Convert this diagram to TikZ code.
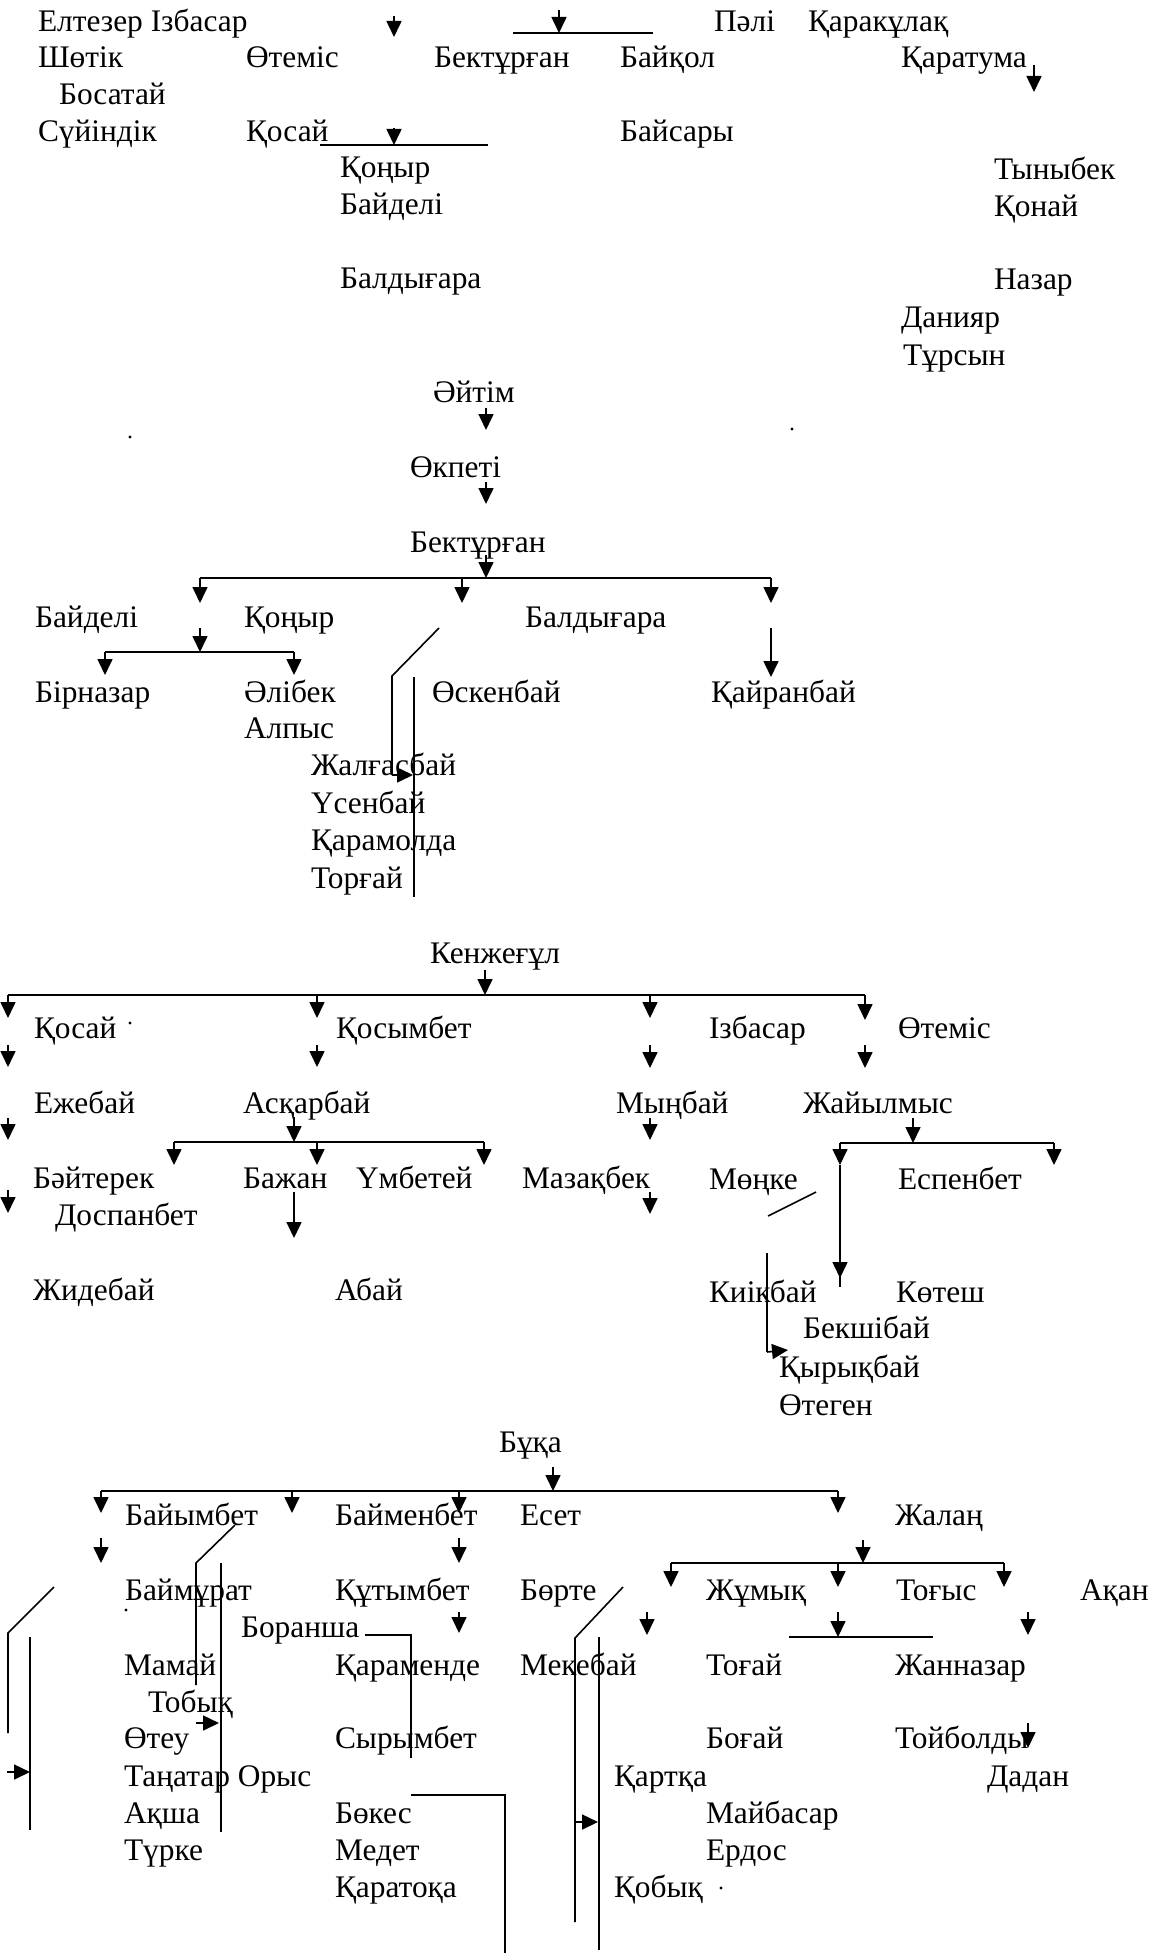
\documentclass[tikz,border=0pt]{standalone}
\usepackage{fontspec}
\setmainfont{Liberation Serif}
\usetikzlibrary{arrows.meta}
\tikzset{
  lbl/.style={anchor=base west,inner sep=0pt,outer sep=0pt,font=\fontsize{15.7}{19}\selectfont},
  ln/.style={line width=0.8pt,black},
  arw/.style={ln,-{Triangle[length=8pt,width=7.5pt]}},
  spot/.style={fill=black,circle,inner sep=0pt,minimum size=1.6pt}
}
\newcommand\nm[4]{\node[lbl] (#1) at (#2,#3) {#4};}
\newcommand\varr[3]{\draw[arw] (#1,#2)--(#1,#3);}
\begin{document}
\begin{tikzpicture}[x=0.5pt,y=-0.5pt]
\useasboundingbox (0,0) rectangle (1162,1953);
% ---------- top block ----------
\nm{eltezer}{38}{32}{Елтезер Ізбасар}
\nm{pali}{714}{32}{Пәлі}
\nm{karakulak}{808}{32}{Қаракұлақ}
\nm{shotik}{38}{68}{Шөтік}
\nm{otemisA}{246}{68}{Өтеміс}
\nm{bektA}{434}{68}{Бектұрған}
\nm{baykol}{620}{68}{Байқол}
\nm{karatuma}{901}{68}{Қаратума}
\nm{bosatay}{59}{105}{Босатай}
\nm{suyin}{38}{142}{Сүйіндік}
\nm{kosayA}{246}{142}{Қосай}
\nm{baysary}{620}{142}{Байсары}
\nm{konyrA}{340}{178}{Қоңыр}
\nm{tynybek}{994}{180}{Тыныбек}
\nm{baydeliA}{340}{215}{Байделі}
\nm{konay}{994}{217}{Қонай}
\nm{baldyA}{340}{288}{Балдығара}
\nm{nazar}{994}{290}{Назар}
\nm{daniyar}{901}{327}{Данияр}
\nm{tursyn}{903}{365}{Тұрсын}
\varr{394}{16}{37}
\draw[ln] (513,33)--(653,33);
\varr{559}{10}{33}
\varr{1034}{65}{92}
\draw[ln] (320,145)--(488,145);
\varr{394}{128}{145}
\node[spot] (dotA) at (130,437) {};
\node[spot] (dotB) at (792,429) {};
% ---------- Әйтім block ----------
\nm{aytim}{433}{402}{Әйтім}
\varr{486}{408}{430}
\nm{okpeti}{410}{477}{Өкпеті}
\varr{486}{482}{504}
\nm{bektB}{410}{552}{Бектұрған}
\varr{486}{555}{578}
\draw[ln] (200,578)--(771,578);
\varr{200}{578}{603}
\varr{462}{578}{603}
\varr{771}{578}{603}
\nm{baydeliB}{35}{627}{Байделі}
\nm{konyrB}{244}{627}{Қоңыр}
\nm{baldyB}{525}{627}{Балдығара}
\varr{200}{628}{652}
\draw[ln] (105,652)--(294,652);
\varr{105}{652}{675}
\varr{294}{652}{675}
\draw[ln] (439,628)--(392,676)--(392,775);
\draw[arw] (392,775)--(413,775);
\draw[ln] (414,677)--(414,897);
\varr{771}{628}{677}
\nm{birnazar}{35}{702}{Бірназар}
\nm{alibek}{244}{702}{Әлібек}
\nm{oskenbay}{432}{702}{Өскенбай}
\nm{kayranbay}{711}{702}{Қайранбай}
\nm{alpys}{244}{738}{Алпыс}
\nm{zhalgas}{311}{775}{Жалғасбай}
\nm{usenbay}{311}{813}{Үсенбай}
\nm{karamolda}{311}{850}{Қарамолда}
\nm{torgay}{311}{888}{Торғай}
% ---------- Кенжеғұл block ----------
\nm{kenzhe}{430}{963}{Кенжеғұл}
\varr{485}{970}{995}
\draw[ln] (8,995)--(865,995);
\varr{8}{995}{1018}
\varr{317}{995}{1018}
\varr{650}{995}{1018}
\varr{865}{995}{1020}
\nm{kosayB}{34}{1038}{Қосай}
\node[spot] (dotC) at (130,1023) {};
\nm{kosymbet}{336}{1038}{Қосымбет}
\nm{izbasar}{709}{1038}{Ізбасар}
\nm{otemisB}{898}{1038}{Өтеміс}
\varr{8}{1045}{1067}
\varr{317}{1045}{1067}
\varr{650}{1045}{1068}
\varr{865}{1045}{1068}
\nm{ezhebay}{34}{1113}{Ежебай}
\nm{askarbay}{243}{1113}{Асқарбай}
\nm{mynbay}{616}{1113}{Мыңбай}
\nm{zhayylmys}{803}{1113}{Жайылмыс}
\varr{8}{1118}{1140}
\varr{294}{1117}{1142}
\draw[ln] (174,1142)--(484,1142);
\varr{174}{1142}{1165}
\varr{317}{1142}{1165}
\varr{484}{1142}{1165}
\varr{650}{1118}{1140}
\varr{913}{1118}{1143}
\draw[ln] (840,1143)--(1054,1143);
\varr{840}{1143}{1165}
\varr{1054}{1143}{1165}
\draw[ln] (840,1165)--(840,1287);
\varr{840}{1250}{1278}
\nm{bayterek}{33}{1188}{Бәйтерек}
\nm{bazhan}{243}{1188}{Бажан}
\nm{umbetey}{356}{1188}{Үмбетей}
\nm{mazakbek}{522}{1188}{Мазақбек}
\nm{monke}{709}{1189}{Мөңке}
\nm{espenbet}{898}{1189}{Еспенбет}
\varr{8}{1190}{1213}
\varr{294}{1192}{1238}
\varr{650}{1192}{1214}
\draw[ln] (768,1216)--(816,1192);
\nm{dospanbet}{55}{1225}{Доспанбет}
\nm{zhidebay}{33}{1300}{Жидебай}
\nm{abay}{335}{1300}{Абай}
\nm{kiikbay}{709}{1302}{Киікбай}
\nm{kotesh}{896}{1302}{Көтеш}
\draw[ln] (767,1253)--(767,1352);
\draw[arw] (767,1352)--(788,1350);
\nm{bekshibay}{803}{1338}{Бекшібай}
\nm{kyrykbay}{779}{1377}{Қырықбай}
\nm{otegen}{779}{1415}{Өтеген}
% ---------- Бұқа block ----------
\nm{buka}{499}{1452}{Бұқа}
\varr{553}{1467}{1491}
\draw[ln] (101,1491)--(838,1491);
\varr{101}{1491}{1513}
\varr{292}{1491}{1513}
\varr{459}{1491}{1513}
\varr{838}{1491}{1513}
\nm{bayymbet}{125}{1525}{Байымбет}
\nm{baymenbet}{335}{1525}{Байменбет}
\nm{eset}{520}{1525}{Есет}
\nm{zhalan}{895}{1525}{Жалаң}
\varr{101}{1538}{1563}
\varr{459}{1538}{1563}
\varr{863}{1540}{1563}
\draw[ln] (671,1563)--(1004,1563);
\varr{671}{1563}{1587}
\varr{838}{1563}{1587}
\varr{1004}{1563}{1587}
\draw[ln] (235,1525)--(196,1563)--(196,1685);
\draw[ln] (221,1563)--(221,1832);
\draw[arw] (196,1723)--(219,1723);
\nm{baymurat}{125}{1600}{Баймұрат}
\nm{kutymbet}{335}{1600}{Құтымбет}
\nm{borte}{520}{1600}{Бөрте}
\nm{zhumyk}{706}{1600}{Жұмық}
\nm{togys}{896}{1600}{Тоғыс}
\nm{akan}{1080}{1600}{Ақан}
\node[spot] (dotD) at (126,1610) {};
\varr{459}{1612}{1633}
\varr{647}{1612}{1635}
\varr{838}{1612}{1637}
\varr{1028}{1612}{1635}
\draw[ln] (789,1637)--(933,1637);
\nm{boransha}{241}{1637}{Боранша}
\draw[ln] (365,1635)--(411,1635)--(411,1758);
\draw[ln] (54,1587)--(8,1633)--(8,1733);
\draw[arw] (7,1772)--(30,1772);
\draw[ln] (30,1637)--(30,1830);
\draw[ln] (623,1587)--(575,1638)--(575,1922);
\draw[arw] (575,1822)--(598,1822);
\draw[ln] (599,1637)--(599,1950);
\nm{mamay}{124}{1675}{Мамай}
\nm{karamende}{335}{1675}{Қараменде}
\nm{mekebay}{520}{1675}{Мекебай}
\nm{togay}{706}{1675}{Тоғай}
\nm{zhannazar}{895}{1675}{Жанназар}
\nm{tobyk}{148}{1712}{Тобық}
\nm{oteu}{124}{1748}{Өтеу}
\nm{syrymbet}{335}{1748}{Сырымбет}
\nm{bogay}{706}{1748}{Боғай}
\nm{toybold}{895}{1748}{Тойболды}
\varr{1028}{1723}{1748}
\nm{tanatar}{124}{1786}{Таңатар Орыс}
\nm{kartka}{614}{1786}{Қартқа}
\nm{dadan}{987}{1786}{Дадан}
\draw[ln] (411,1795)--(505,1795)--(505,1953);
\nm{aksha}{124}{1823}{Ақша}
\nm{bokes}{335}{1823}{Бөкес}
\nm{maybasar}{706}{1823}{Майбасар}
\nm{turke}{124}{1860}{Түрке}
\nm{medet}{335}{1860}{Медет}
\nm{erdos}{706}{1860}{Ердос}
\nm{karatoka}{335}{1897}{Қаратоқа}
\nm{kobyk}{614}{1897}{Қобық}
\node[spot] (dotE) at (721,1888) {};
\end{tikzpicture}
\end{document}
